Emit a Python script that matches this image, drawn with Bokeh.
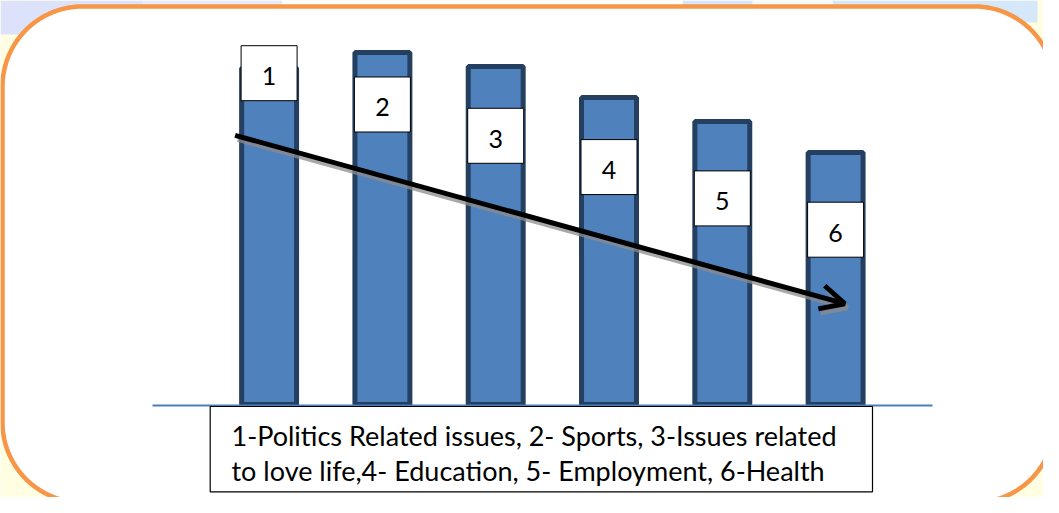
import numpy as np
from bokeh.plotting import figure
from bokeh.models import Range1d, Arrow, OpenHead
from bokeh.core.properties import value
from bokeh.embed import file_html
from bokeh.resources import INLINE

# ---------------- data ----------------
categories = ["1", "2", "3", "4", "5", "6"]
topics = ["Politics Related issues", "Sports", "Issues related to love life",
          "Education", "Employment", "Health"]
values = [67.3, 70.4, 67.6, 61.4, 56.6, 50.4]
caption_lines = ["1-Politics Related issues, 2- Sports, 3-Issues related",
                 "to love life,4- Education, 5- Employment, 6-Health"]

# ---------------- layout helpers (slide pixel space -> data space) ----------------
W, H, MARGIN = 1043, 497, 8
PX_X_FIRST, PX_PER_X = 276.6, 113.3      # pixel x of first bar centre, pixels per bar step
PX_Y_BASE, PX_PER_Y = 412.0, 5.0         # pixel y of baseline, pixels per value unit


def dx(px):
    return 1 + (px - PX_X_FIRST) / PX_PER_X


def dy(py):
    return (PX_Y_BASE - py) / PX_PER_Y


xi = np.arange(1, len(values) + 1)

FONT = value("Lato")
BAR_FILL, BAR_LINE = "#4F81BD", "#243F60"
ORANGE = "#F79646"

p = figure(width=W, height=H,
           x_range=Range1d(dx(MARGIN), dx(MARGIN + W)),
           y_range=Range1d(dy(MARGIN + H), dy(MARGIN)),
           output_backend="svg", toolbar_location=None, min_border=0,
           x_axis_location=None, y_axis_location=None)
p.grid.visible = False
p.outline_line_color = None
p.background_fill_color = "#FFFEE2"
p.border_fill_color = "#FFFEE2"

# slide background tints (top band)
bands = [(8, 150, 8, 42, "#DCE2F9"), (150, 290, 8, 16, "#E4EAFB"),
         (690, 760, 8, 16, "#D6E6FA"), (840, 1045, 8, 30, "#D4E8FA"),
         (290, 690, 8, 14, "#FFFFFF"), (760, 840, 8, 14, "#F4F9FE")]
for l, r, t, b, c in bands:
    p.quad(left=dx(l), right=dx(r), top=dy(t), bottom=dy(b), fill_color=c, line_color=None)

# rounded orange frame
def rounded_rect(l, t, r, b, rad, n=30):
    pts = []
    for (cx, cy, a0) in [(r - rad, t + rad, -np.pi / 2), (r - rad, b - rad, 0.0),
                         (l + rad, b - rad, np.pi / 2), (l + rad, t + rad, np.pi)]:
        a = np.linspace(a0, a0 + np.pi / 2, n)
        pts.extend(zip(cx + rad * np.cos(a), cy + rad * np.sin(a)))
    pts = np.array(pts)
    return dx(pts[:, 0]), dy(pts[:, 1])


fx, fy = rounded_rect(10, 14, 1062, 510, 80)
p.patch(fx, fy, fill_color="white", line_color=ORANGE, line_width=4.5)

# bars
p.vbar(x=xi, top=values, bottom=0, width=0.485,
       fill_color=BAR_FILL, line_color=BAR_LINE, line_width=5)

# baseline
p.segment(x0=[dx(160)], y0=[-0.2], x1=[dx(940)], y1=[-0.2], line_color="#4A7EBB", line_width=2)

# trend arrow (with soft shadow)
ax0, ay0 = xi[0] - 0.3, values[0] * 0.8
ax1, ay1 = xi[-1] + 0.08, values[-1] * 0.4
sdx, sdy = 2.5 / PX_PER_X, -4 / PX_PER_Y
p.add_layout(Arrow(x_start=ax0 + sdx, y_start=ay0 + sdy, x_end=ax1 + sdx, y_end=ay1 + sdy,
                   line_color="#8C8C8C", line_alpha=0.75, line_width=5,
                   end=OpenHead(size=24, line_width=5, line_color="#8C8C8C", line_alpha=0.75)))
p.add_layout(Arrow(x_start=ax0, y_start=ay0, x_end=ax1, y_end=ay1,
                   line_color="black", line_width=5,
                   end=OpenHead(size=24, line_width=5, line_color="black")))

# numbered label boxes, lined up parallel to the arrow
LIFT = 14.3
label_y = ay0 + (ay1 - ay0) * (xi - ax0) / (ax1 - ax0) + LIFT
p.rect(x=xi, y=label_y, width=56 / PX_PER_X, height=55 / PX_PER_Y,
       fill_color="white", line_color="black", line_width=1)
p.text(x=xi, y=label_y - 0.6, text=categories, text_align="center", text_baseline="middle",
       text_font=FONT, text_font_size="25px", text_color="black")

# caption box
p.quad(left=[dx(217.7)], right=[dx(880)], top=[dy(414)], bottom=[dy(499.3)],
       fill_color="white", line_color="black", line_width=1.2)
p.text(x=[dx(239)] * 2, y=[dy(443), dy(478)], text=caption_lines,
       text_align="left", text_baseline="middle",
       text_font=FONT, text_font_size="27px", text_color="black")

open("out.html", "w").write(file_html(p, INLINE))
